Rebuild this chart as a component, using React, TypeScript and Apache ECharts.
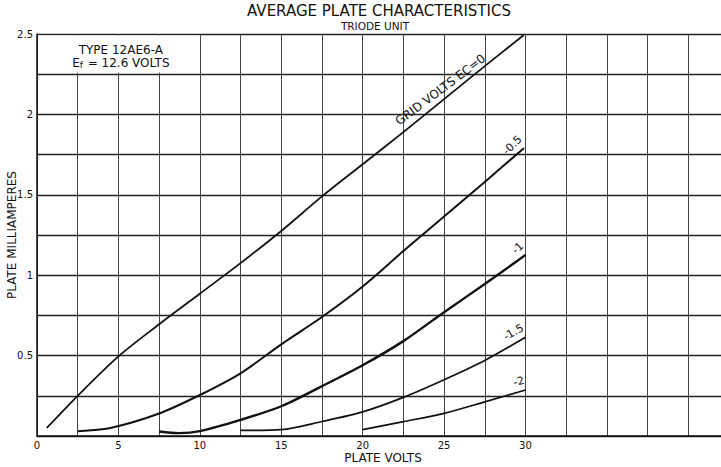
import React, { useEffect, useRef } from 'react';
import * as echarts from 'echarts';

// ---- data ----
const xTickLabels = ['0', '5', '10', '15', '20', '25', '30'];
const yTickLabels = ['0.5', '1', '1.5', '2', '2.5'];

const ec0 = [[0.6, 0.05], [2.5, 0.25], [5, 0.495], [7.5, 0.695], [10, 0.885], [12.5, 1.075], [15, 1.275], [17.5, 1.49], [20, 1.69], [22.5, 1.89], [25, 2.095], [27.5, 2.3], [29.9, 2.494]];
const ecM05 = [[2.5, 0.03], [4.5, 0.05], [7.5, 0.14], [10, 0.255], [12.5, 0.39], [15, 0.57], [17.5, 0.74], [20, 0.93], [22.5, 1.15], [25, 1.365], [27.5, 1.58], [29.9, 1.79]];
const ecM1 = [[7.5, 0.028], [8.7, 0.018], [10, 0.03], [12.5, 0.1], [15, 0.185], [17.5, 0.31], [20, 0.44], [22.5, 0.59], [25, 0.77], [27.5, 0.945], [30, 1.125]];
const ecM15 = [[12.5, 0.035], [15, 0.04], [17.5, 0.09], [20, 0.15], [22.5, 0.24], [25, 0.35], [27.5, 0.47], [30, 0.614]];
const ecM2 = [[20, 0.04], [22.5, 0.089], [25, 0.141], [27.5, 0.212], [30, 0.286]];

const curveLabels = ['GRID VOLTS EC=0', '-0.5', '-1', '-1.5', '-2'];
const labelAt = [10, 11, 10, 7, 4]; // index of point that carries the label

const titleText = 'AVERAGE PLATE CHARACTERISTICS';
const subtitleText = 'TRIODE UNIT';
const tubeType = 'TYPE 12AE6-A';
const heaterLine = 'E{sub|f} = 12.6 VOLTS';
const xName = 'PLATE VOLTS';
const yName = 'PLATE MILLIAMPERES';

const FONT = 'DejaVu Sans';
const INK = '#111';

const curveStyles = [
  { width: 1.8, rotate: 37, align: 'center', distance: 4, size: 12 },
  { width: 2, rotate: 44, align: 'right', distance: 6, size: 11 },
  { width: 2.4, rotate: 42, align: 'right', distance: 6, size: 11 },
  { width: 1.7, rotate: 30, align: 'right', distance: 5, size: 11 },
  { width: 1.7, rotate: 14, align: 'right', distance: 4, size: 11 },
];

export default function App() {
  const ref = useRef<HTMLDivElement>(null);
  useEffect(() => {
    if (!ref.current) return;
    const chart = echarts.init(ref.current, null, { renderer: 'svg' });
    const curves = [ec0, ecM05, ecM1, ecM15, ecM2];
    const series: any[] = curves.map((pts, i) => ({
      type: 'line',
      smooth: 0.3,
      symbol: 'none',
      silent: true,
      lineStyle: { color: INK, width: curveStyles[i].width },
      data: pts.map((p, j) =>
        j === labelAt[i]
          ? {
              value: p,
              symbol: 'circle',
              symbolSize: 1,
              itemStyle: { color: INK },
              label: {
                show: true,
                formatter: curveLabels[i],
                position: 'top',
                distance: curveStyles[i].distance,
                rotate: curveStyles[i].rotate,
                align: curveStyles[i].align,
                verticalAlign: 'bottom',
                color: INK,
                fontSize: curveStyles[i].size,
                fontFamily: FONT,
              },
            }
          : { value: p }
      ),
      z: 3,
    }));
    series.push({
      type: 'line',
      data: [],
      silent: true,
      markArea: {
        silent: true,
        itemStyle: { color: '#ffffff', borderWidth: 0 },
        label: {
          show: true,
          position: 'inside',
          offset: [2, 2],
          formatter: tubeType + '\n' + heaterLine,
          color: INK,
          fontSize: 12,
          lineHeight: 13,
          fontFamily: FONT,
          rich: {
            sub: { fontSize: 9, verticalAlign: 'bottom', color: INK, fontFamily: FONT, lineHeight: 13, padding: [4, 1, 0, 0] },
          },
        },
        data: [[{ xAxis: 0.1, yAxis: 2.26 }, { xAxis: 9.95, yAxis: 2.49 }]],
      },
      z: 2,
    });

    chart.setOption({
      animation: false,
      backgroundColor: '#ffffff',
      grid: { left: 37, right: -8, top: 34, bottom: 31, containLabel: false, outerBoundsMode: 'none' },
      graphic: [
        {
          type: 'text',
          x: 379,
          y: 11,
          style: {
            text: titleText,
            fill: INK,
            fontSize: 15,
            fontFamily: FONT,
            align: 'center',
            verticalAlign: 'middle',
            textAlign: 'center',
            textVerticalAlign: 'middle',
          },
        },
        {
          type: 'text',
          x: 375,
          y: 26,
          style: {
            text: subtitleText,
            fill: INK,
            fontSize: 10.5,
            fontFamily: FONT,
            align: 'center',
            verticalAlign: 'middle',
            textAlign: 'center',
            textVerticalAlign: 'middle',
          },
        },
      ],
      xAxis: {
        type: 'value',
        min: 0,
        max: 42.5,
        interval: 2.5,
        name: xName,
        nameLocation: 'middle',
        nameGap: 16,
        nameMoveOverlap: false,
        nameTextStyle: { color: INK, fontSize: 12, fontFamily: FONT },
        axisLine: { show: true, lineStyle: { color: INK, width: 1.5 } },
        axisTick: { show: false },
        axisLabel: {
          formatter: (v: number) => (xTickLabels.includes(String(v)) ? String(v) : ''),
          color: INK,
          fontSize: 10,
          fontFamily: FONT,
          margin: 4,
          showMaxLabel: true,
        },
        splitLine: { show: true, lineStyle: { color: '#444', width: 1 } },
      },
      yAxis: {
        type: 'value',
        min: 0,
        max: 2.5,
        interval: 0.25,
        name: yName,
        nameLocation: 'middle',
        nameGap: 19,
        nameMoveOverlap: false,
        nameTextStyle: { color: INK, fontSize: 12, fontFamily: FONT },
        axisLine: { show: true, lineStyle: { color: INK, width: 1.5 } },
        axisTick: { show: false },
        axisLabel: {
          formatter: (v: number) => (yTickLabels.includes(String(v)) ? String(v) : ''),
          color: INK,
          fontSize: 10,
          fontFamily: FONT,
          margin: 4,
        },
        splitLine: { show: true, lineStyle: { color: '#222', width: 1.4 } },
      },
      series,
    });
    return () => chart.dispose();
  }, []);
  return (
    <div
      ref={ref}
      style={{ position: 'fixed', left: 0, top: 0, width: 721, height: 467, background: '#ffffff' }}
    />
  );
}
